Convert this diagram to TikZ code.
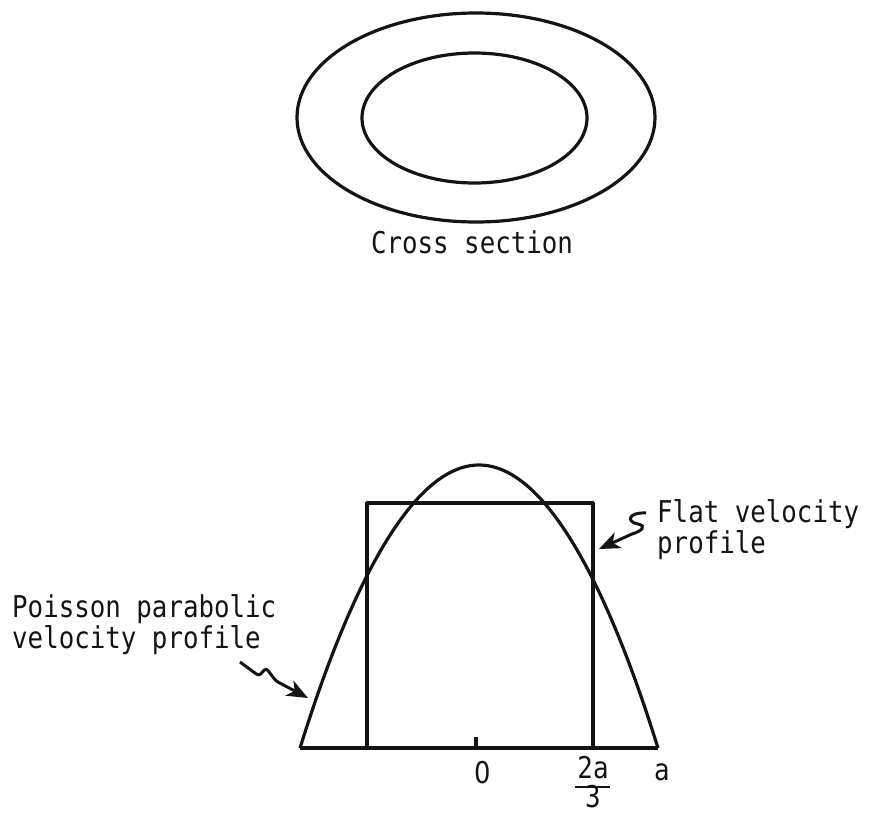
\documentclass[tikz,border=0pt]{standalone}
\usepackage{fontspec}
\setmonofont[FakeStretch=0.86]{DejaVu Sans Mono}
\newfontfamily\digitfont[FakeStretch=0.86]{DejaVu Sans}
\definecolor{ink}{RGB}{20, 20, 20}
\usetikzlibrary{arrows.meta, positioning}
\tikzset{
  curve/.style={draw=ink, line width=3.2pt, line join=round},
  lbl/.style={font=\ttfamily\fontsize{30}{31}\selectfont, text=ink, inner sep=0pt},
  pointer/.style={draw=ink, line width=3pt, rounded corners=3pt,
    -{Stealth[length=21pt, width=17pt, inset=6pt]}},
}
\begin{document}
\begin{tikzpicture}[x=1pt, y=-1pt]
  \useasboundingbox (0,0) rectangle (871,814);
  % cross section
  \draw[curve] (476,117.5) ellipse [x radius=179pt, y radius=104.5pt];
  \draw[curve] (474.5,118) ellipse [x radius=112.5pt, y radius=65pt];
  \node[lbl, anchor=base] (xsec) at (472,253) {Cross section};
  % velocity profiles
  \coordinate (left) at (300,748);
  \coordinate (right) at (658,748);
  \draw[curve] (left) -- (right);
  \draw[curve] (left) parabola bend (479,465) (right);
  \draw[curve] (367,748) |- (593,503) -- (593,748);
  \draw[curve] (476,748) -- (476,737);
  % axis labels
  \node[lbl, font=\digitfont\fontsize{30}{31}\selectfont, anchor=base] (zero) at (483,783) {0};
  \node[lbl, anchor=base] (num) at (593,778) {2a};
  \node[lbl, anchor=base] (den) at (593,807) {3};
  \draw[curve, line width=2.4pt] (575,787) -- (610,787);
  \node[lbl, anchor=base] (aa) at (662,780) {a};
  % captions
  \node[lbl, anchor=base west] (flat1) at (657,522) {Flat velocity};
  \node[lbl, below=31pt of flat1.base west, anchor=base west] (flat2) {profile};
  \node[lbl, anchor=base west] (pois1) at (12,617) {Poisson parabolic};
  \node[lbl, below=31pt of pois1.base west, anchor=base west] (pois2) {velocity profile};
  % pointers
  \coordinate (flattail) at (646,513);
  \coordinate (flattip) at (599,549);
  \draw[pointer, rounded corners=0pt] (flattail) .. controls (628,512) and (626,522) .. (638,524)
    .. controls (647,526) and (642,531) .. (632,534) -- (flattip);
  \coordinate (poistail) at (240,662);
  \coordinate (poistip) at (308,698);
  \draw[pointer] (poistail) -- (259,676) -- (266,668) -- (276,681) -- (poistip);
\end{tikzpicture}
\end{document}
